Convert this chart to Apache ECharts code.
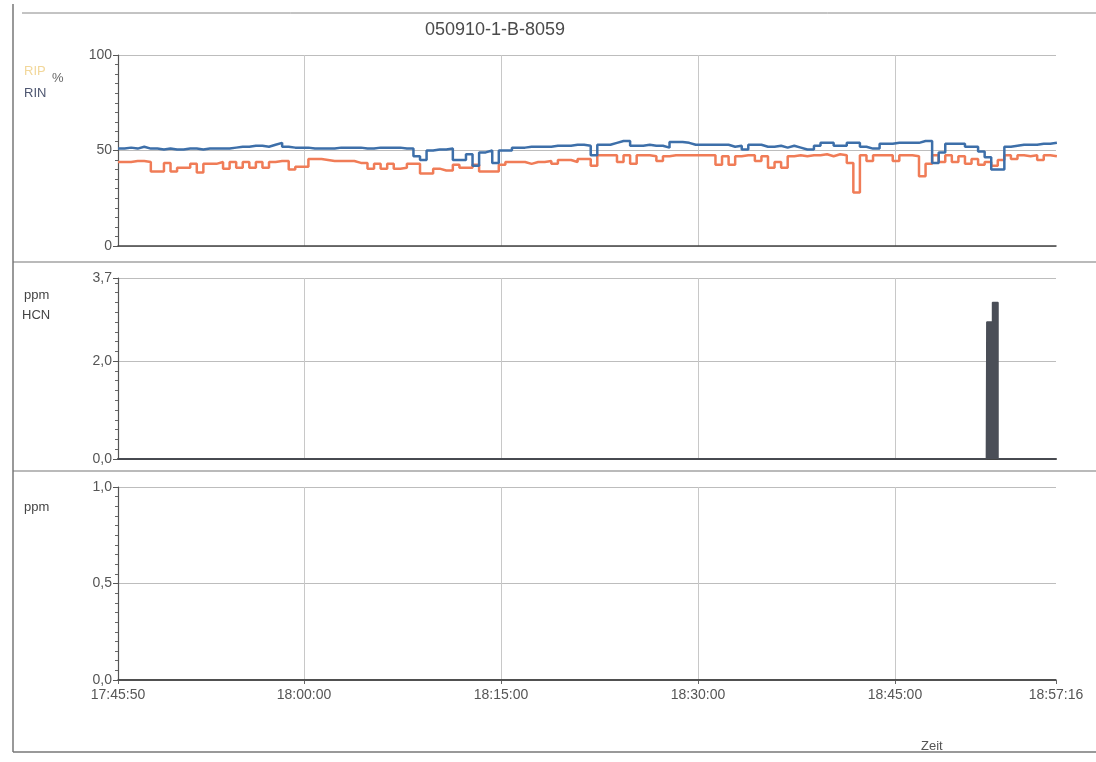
<!DOCTYPE html>
<html>
<head>
<meta charset="utf-8">
<script src="https://cdn.jsdelivr.net/npm/echarts@6/dist/echarts.min.js"></script>
<style>
html,body{margin:0;padding:0;background:#fff;}
#chart{width:1096px;height:762px;}
</style>
</head>
<body>
<div id="chart"></div>
<script>
// ---------- data ----------
const title = '050910-1-B-8059';
const startClock = 17 * 3600 + 45 * 60 + 50;   // 17:45:50
const endOffset = 4286;                          // 18:57:16 - 17:45:50 (s)
const timeTicks = [0, 850, 1750, 2650, 3550, 4286]; // 17:45:50, 18:00, 18:15, 18:30, 18:45, 18:57:16
const sampleStep = 30; // seconds between samples of the % traces

const rinValues = [
  51, 51.5, 51, 52, 51, 51,
  50.5, 51, 50.5, 50.5, 51, 51, 50.5, 51, 51, 51, 51, 51.5,
  52, 52, 52.5, 52.5, 52, 53,
  54,
  52, 51.5, 51.5, 51.5, 51,
  51, 51, 51, 51.5, 51.5, 51.5, 51.5, 51, 51, 51.5, 51.5,
  51.5, 51.5, 51, 51,
  47, 45, 50, 50.5, 50.5, 51, 45, 45, 48, 42, 49, 50, 43.5, 50, 50, 51.5,
  51.5, 52, 52, 52, 52, 52.5, 52.5, 52.5, 53, 53,
  52.5, 47.5, 53, 53, 54, 55, 55, 52.5, 52.5, 53, 52.5, 52.5, 51.5, 54.5, 54.5, 54, 53, 53,
  53, 53, 53, 53, 52, 52.5, 50.5, 53, 53, 52, 52, 52.5, 51.5, 52.5, 51.5, 50.5, 50.5, 52.5,
  54, 54, 52.5, 52.5, 54, 54, 52, 51, 51, 53.5, 53.5, 54, 54, 54, 54, 55, 55, 43.5, 49,
  53.5, 53.5, 53.5, 52, 52, 49.5, 46.5, 40, 40, 52, 52.5, 53, 53, 53, 53.5, 53.5, 54, 54
];
const ripValues = [
  44, 44, 44.5, 44.5, 44,
  39, 39, 43.5, 39, 41, 41, 43, 38.5, 43, 43, 44, 40.5, 44, 41, 44, 41, 44, 41, 44, 44.5, 44.5, 40, 41.5, 41.5,
  45.5, 45.5, 45, 44.5, 44.5, 44.5, 44.5, 43.5, 43.5, 40.5, 43, 40.5, 43, 40.5, 41, 43, 43,
  38, 38, 40.5, 39.5, 39.5, 42.5, 41, 41, 42.5, 39, 39, 39, 42.5, 44, 44, 44, 43, 44, 44, 44.5, 43, 45, 45, 44, 45.5,
  45.5, 42, 47.5, 47.5, 47.5, 44, 47.5, 43, 47.5, 47.5, 47, 44.5, 47, 47.5, 47.5, 47.5, 47.5, 47.5,
  47.5, 47.5, 42.5, 47, 42.5, 47, 47.5, 47.5, 44.5, 47, 41, 44, 41, 47, 47.5, 47, 47.5, 47.5,
  48, 47, 48, 47.5, 43.5, 28, 47.5, 44.5, 47.5, 47.5, 47.5, 44.5, 47.5, 47.5, 47, 36.5, 43, 47.5, 44,
  47.5, 44, 47, 43, 45.5, 42.5, 44, 42, 45, 47.5, 45.5, 47.5, 47, 47.5, 45, 47.5, 47, 47
];
const hcnTimes  = [0, 3968, 3970, 3996, 4021, 4286];
const hcnValues = [0, 0, 2.8, 3.2, 0, 0];
const thirdTimes  = [0, 4286];
const thirdValues = [0, 0];

// ---------- helpers ----------
function clock(v) {
  const t = Math.round(startClock + v);
  const h = Math.floor(t / 3600), m = Math.floor((t % 3600) / 60), s = t % 60;
  const p = n => String(n).padStart(2, '0');
  return h + ':' + p(m) + ':' + p(s);
}
const toPairs = (vals, step) => vals.map((v, i) => [i * step, v]);
const zipPairs = (ts, vs) => ts.map((t, i) => [t, vs[i]]);
const comma1 = v => v.toFixed(1).replace('.', ',');

const FONT = "'Liberation Sans Narrow', 'Liberation Sans', Arial, sans-serif";
const TXT = '#555';

const grids = [
  { left: 118, right: 40, top: 55, height: 191 },
  { left: 118, right: 40, top: 278, height: 181 },
  { left: 118, right: 40, top: 487, height: 193 }
];

function xAxisFor(idx, showLabels) {
  return {
    type: 'value', gridIndex: idx, min: 0, max: endOffset,
    axisLine: { show: true, lineStyle: { color: '#444', width: idx === 1 ? 2 : 1.5 } },
    axisTick: { show: showLabels, customValues: timeTicks, length: 4, lineStyle: { color: '#666' } },
    axisLabel: { show: showLabels, customValues: timeTicks, formatter: clock, color: TXT,
                 fontFamily: FONT, fontSize: 14, margin: 8, showMinLabel: true, showMaxLabel: true },
    splitLine: { show: true, showMinLine: false, showMaxLine: false, lineStyle: { color: '#c8c8c8', width: 1 } }
  };
}
function yAxisFor(idx, max, interval, fmt) {
  return {
    type: 'value', gridIndex: idx, min: 0, max: max, interval: interval,
    axisLine: { show: true, lineStyle: { color: '#555', width: 1.2 } },
    axisTick: { show: true, length: 5, lineStyle: { color: '#555' } },
    minorTick: { show: true, splitNumber: 10, length: 3, lineStyle: { color: '#666' } },
    axisLabel: { formatter: fmt, color: TXT, fontFamily: FONT, fontSize: 14, margin: 6,
                 showMinLabel: true, showMaxLabel: true },
    splitLine: { show: true, lineStyle: { color: '#bdbdbd', width: 1 } }
  };
}

const option = {
  backgroundColor: '#fff',
  animation: false,
  title: {
    text: title, left: 490, top: 16, textAlign: 'center',
    textStyle: { fontFamily: FONT, fontSize: 18, fontWeight: 'normal', color: '#4a4a4a' }
  },
  grid: grids,
  xAxis: [xAxisFor(0, false), xAxisFor(1, false), xAxisFor(2, true)],
  yAxis: [
    yAxisFor(0, 100, 50, v => String(v)),
    yAxisFor(1, 3.7, 2, comma1),
    yAxisFor(2, 1, 0.5, comma1)
  ],
  series: [
    { name: 'RIP', type: 'line', xAxisIndex: 0, yAxisIndex: 0, step: 'end', showSymbol: false,
      data: toPairs(ripValues, sampleStep), lineStyle: { color: '#f07c57', width: 2.5 }, itemStyle: { color: '#f07c57' } },
    { name: 'RIN', type: 'line', xAxisIndex: 0, yAxisIndex: 0, step: 'end', showSymbol: false,
      data: toPairs(rinValues, sampleStep), lineStyle: { color: '#3d6fa9', width: 2.5 }, itemStyle: { color: '#3d6fa9' } },
    { name: 'HCN', type: 'line', xAxisIndex: 1, yAxisIndex: 1, step: 'end', showSymbol: false,
      data: zipPairs(hcnTimes, hcnValues), lineStyle: { color: '#4a4e57', width: 1.5 },
      areaStyle: { color: '#4a4e57', opacity: 1 }, itemStyle: { color: '#4a4e57' } },
    { name: 'ppm', type: 'line', xAxisIndex: 2, yAxisIndex: 2, showSymbol: false,
      data: zipPairs(thirdTimes, thirdValues), lineStyle: { color: '#444', width: 1.5 } }
  ],
  graphic: [
    { type: 'line', shape: { x1: 13, y1: 4, x2: 13, y2: 752 }, style: { stroke: '#777', lineWidth: 1.5 } },
    { type: 'line', shape: { x1: 13, y1: 752, x2: 1096, y2: 752 }, style: { stroke: '#777', lineWidth: 1.5 } },
    { type: 'line', shape: { x1: 22, y1: 13, x2: 1096, y2: 13 }, style: { stroke: '#888', lineWidth: 1 } },
    { type: 'line', shape: { x1: 13, y1: 262, x2: 1096, y2: 262 }, style: { stroke: '#777', lineWidth: 1.2 } },
    { type: 'line', shape: { x1: 13, y1: 471, x2: 1096, y2: 471 }, style: { stroke: '#777', lineWidth: 1.2 } },
    { type: 'text', left: 24, top: 65, style: { text: 'RIP', fill: '#f2d79a', font: "13px " + FONT } },
    { type: 'text', left: 52, top: 72, style: { text: '%', fill: '#666', font: "13px " + FONT } },
    { type: 'text', left: 24, top: 87, style: { text: 'RIN', fill: '#4e5670', font: "13px " + FONT } },
    { type: 'text', left: 24, top: 289, style: { text: 'ppm', fill: '#444', font: "13px " + FONT } },
    { type: 'text', left: 22, top: 309, style: { text: 'HCN', fill: '#444', font: "13px " + FONT } },
    { type: 'text', left: 24, top: 501, style: { text: 'ppm', fill: '#444', font: "13px " + FONT } },
    { type: 'text', left: 921, top: 740, style: { text: 'Zeit', fill: '#555', font: "13px " + FONT } }
  ]
};

const chart = echarts.init(document.getElementById('chart'), null, { renderer: 'canvas' });
chart.setOption(option);
</script>
</body>
</html>
